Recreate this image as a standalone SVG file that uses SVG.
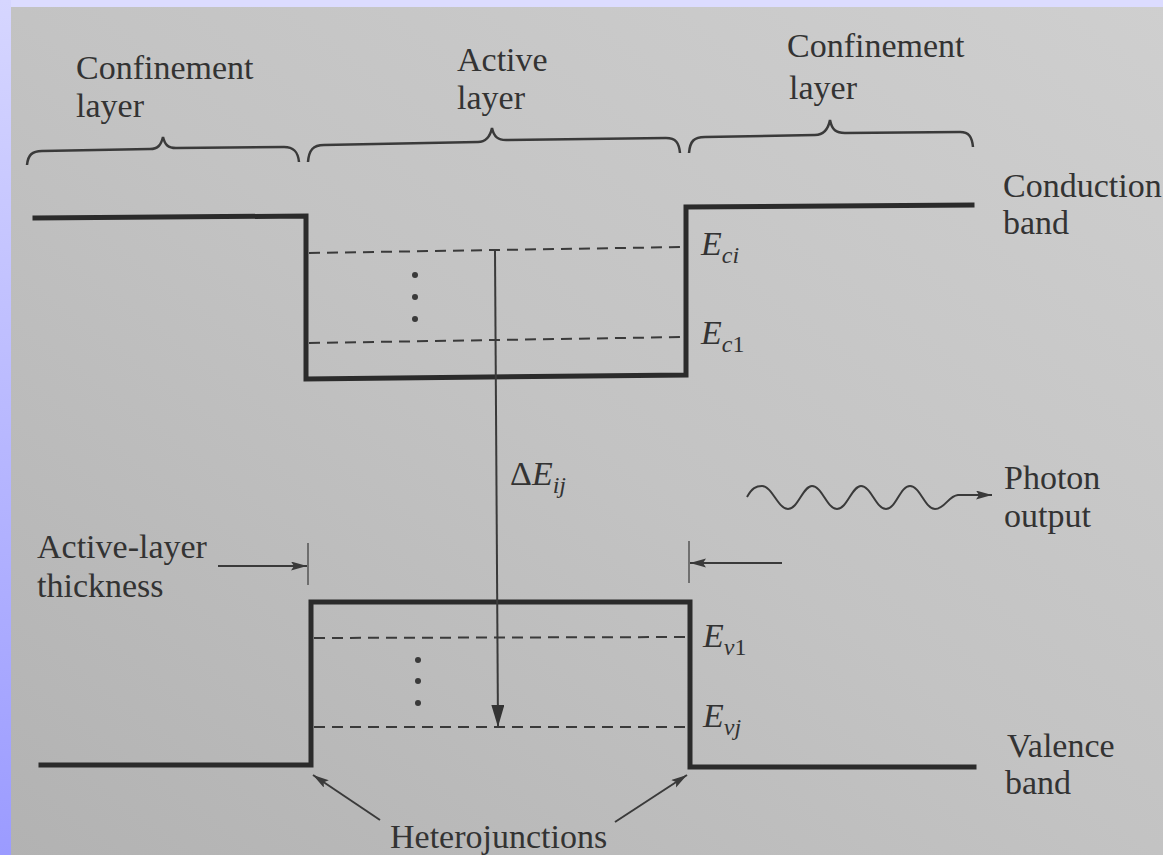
<svg xmlns="http://www.w3.org/2000/svg" width="1163" height="855" viewBox="0 0 1163 855" font-family="Liberation Serif, Times New Roman, DejaVu Serif, serif">
  <defs>
    <linearGradient id="page" x1="1" y1="0" x2="0" y2="1">
      <stop offset="0" stop-color="#cfcfcf"/>
      <stop offset="0.5" stop-color="#c3c3c3"/>
      <stop offset="1" stop-color="#b2b2b2"/>
    </linearGradient>
    <linearGradient id="edge" x1="0" y1="0" x2="0" y2="1">
      <stop offset="0" stop-color="#d6d6ff"/>
      <stop offset="1" stop-color="#9b9bff"/>
    </linearGradient>
    <marker id="bigHead" markerUnits="userSpaceOnUse" markerWidth="24" markerHeight="14" refX="22" refY="6.5" orient="auto">
      <path d="M0,0 L22,6.5 L0,13 Z" fill="#333"/>
    </marker>
    <marker id="head" markerUnits="userSpaceOnUse" markerWidth="18" markerHeight="10" refX="16" refY="4.5" orient="auto">
      <path d="M0,0 L16,4.5 L0,9 L3,4.5 Z" fill="#3a3a3a"/>
    </marker>
    <style>
      .band { fill: none; stroke: #2b2b2b; stroke-width: 5; stroke-linejoin: miter; stroke-linecap: square; }
      .level { fill: none; stroke: #3a3a3a; stroke-width: 2; stroke-dasharray: 11 7; }
      .brace { fill: none; stroke: #3a3a3a; stroke-width: 2.5; }
      .thin { fill: none; stroke: #3a3a3a; stroke-width: 2; }
      .tick { fill: none; stroke: #555; stroke-width: 1.5; }
      .dot { fill: #3a3a3a; }
      .lbl { fill: #333; font-size: 34px; }
      .it { font-style: italic; }
      .sub { font-size: 24px; }
    </style>
  </defs>

  <!-- page and scan edges -->
  <rect x="0" y="0" width="1163" height="855" fill="url(#page)"/>
  <rect x="0" y="0" width="1163" height="7" fill="#dcdcff"/>
  <rect x="0" y="0" width="11" height="855" fill="url(#edge)"/>

  <!-- region braces and titles -->
  <g id="confinement-left">
    <path class="brace" d="M27,165 C28,155 32,151 42,151 L150,149 C158,149 161,145 163,137 C165,145 168,148 176,148 L284,147 C294,147 298,152 299,162"/>
    <text class="lbl" x="76" y="79">Confinement</text>
    <text class="lbl" x="76" y="117">layer</text>
  </g>
  <g id="active-region">
    <path class="brace" d="M308,162 C309,150 313,145 324,145 L478,142 C486,142 490,137 492,128 C494,137 498,140 506,140 L666,138 C676,138 679,143 680,153"/>
    <text class="lbl" x="457" y="71">Active</text>
    <text class="lbl" x="457" y="109">layer</text>
  </g>
  <g id="confinement-right">
    <path class="brace" d="M689,153 C690,141 694,137 705,137 L815,135 C823,135 828,130 830,120 C832,130 836,133 845,133 L960,132 C969,132 972,137 973,147"/>
    <text class="lbl" x="787" y="57">Confinement</text>
    <text class="lbl" x="789" y="99">layer</text>
  </g>

  <!-- conduction band -->
  <g id="conduction-band">
    <path class="band" d="M35,218 L306,216 L306,379 L686,375 L686,207 L972,205"/>
    <path class="level" d="M309,253 L684,247"/>
    <path class="level" d="M309,343 L684,337"/>
    <circle class="dot" cx="415" cy="275" r="3"/>
    <circle class="dot" cx="415" cy="297" r="3"/>
    <circle class="dot" cx="415" cy="319" r="3"/>
    <text class="lbl" x="1003" y="197">Conduction</text>
    <text class="lbl" x="1003" y="234">band</text>
    <text class="lbl" x="701" y="255"><tspan class="it">E</tspan><tspan class="sub it" dy="8">ci</tspan></text>
    <text class="lbl" x="701" y="344"><tspan class="it">E</tspan><tspan class="sub it" dy="8">c</tspan><tspan class="sub">1</tspan></text>
  </g>

  <!-- valence band -->
  <g id="valence-band">
    <path class="band" d="M41,765 L311,765 L311,602 L690,602 L690,767 L974,767"/>
    <path class="level" d="M314,638 L688,637"/>
    <path class="level" d="M314,727 L688,727"/>
    <circle class="dot" cx="418" cy="660" r="3"/>
    <circle class="dot" cx="418" cy="681" r="3"/>
    <circle class="dot" cx="418" cy="703" r="3"/>
    <text class="lbl" x="1007" y="757">Valence</text>
    <text class="lbl" x="1005" y="794">band</text>
    <text class="lbl" x="703" y="647"><tspan class="it">E</tspan><tspan class="sub it" dy="8">v</tspan><tspan class="sub">1</tspan></text>
    <text class="lbl" x="703" y="727"><tspan class="it">E</tspan><tspan class="sub it" dy="8">vj</tspan></text>
  </g>

  <!-- photon emission -->
  <g id="photon">
    <text class="lbl" x="1004" y="489">Photon</text>
    <text class="lbl" x="1004" y="527">output</text>
  </g>

  <!-- active-layer thickness -->
  <g id="thickness">
    <text class="lbl" x="37" y="558">Active-layer</text>
    <text class="lbl" x="37" y="597">thickness</text>
    <line class="tick" x1="308" y1="543" x2="308" y2="585"/>
    <line class="tick" x1="689" y1="541" x2="689" y2="583"/>
  </g>

  <!-- heterojunction label -->
  <g id="heterojunctions">
    <text class="lbl" x="390" y="848">Heterojunctions</text>
  </g>

  <!-- connectors -->
  <g id="connectors">
    <line class="thin" x1="495" y1="251" x2="498" y2="727" marker-end="url(#bigHead)"/>
    <text class="lbl" x="510" y="485">Δ<tspan class="it">E</tspan><tspan class="sub it" dy="8">ij</tspan></text>
    <path class="thin" d="M747,497 C752,488 756,486 762,486 C772,486 778,509 788,509 C798,509 803,486 812,486 C822,486 827,509 837,509 C847,509 852,486 861,486 C871,486 876,509 886,509 C896,509 900,486 910,486 C920,486 925,509 935,509 C945,509 948,496 958,495 L992,495" marker-end="url(#head)"/>
    <line class="thin" x1="218" y1="566" x2="307" y2="566" marker-end="url(#head)"/>
    <line class="thin" x1="782" y1="563" x2="690" y2="563" marker-end="url(#head)"/>
    <line class="thin" x1="380" y1="820" x2="313" y2="775" marker-end="url(#head)"/>
    <line class="thin" x1="615" y1="822" x2="687" y2="775" marker-end="url(#head)"/>
  </g>
</svg>
